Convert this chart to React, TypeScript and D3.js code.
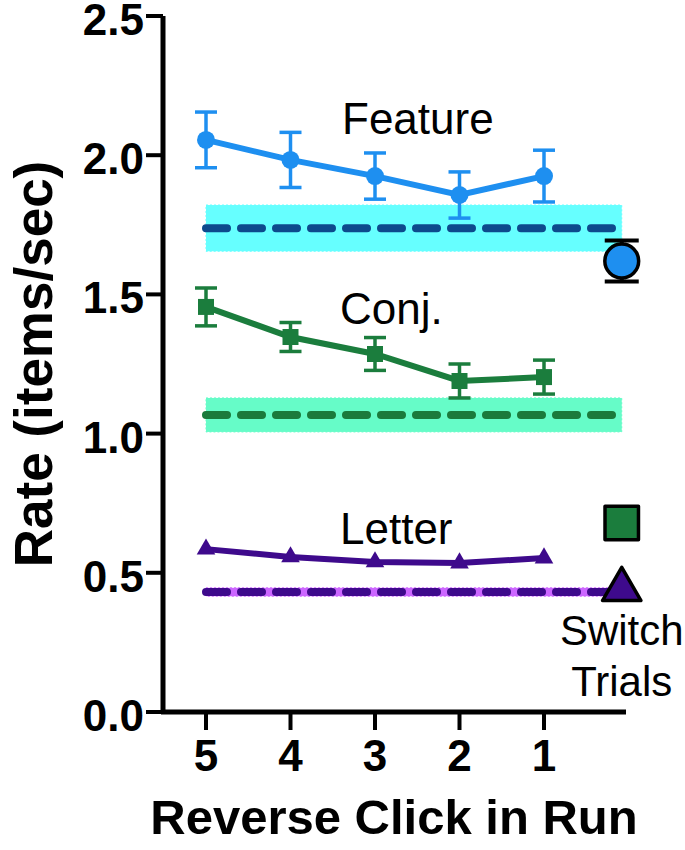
import React from "react";
import * as d3 from "d3";

// reverse click position in run (5 = five clicks before end)
const clicks = ["5", "4", "3", "2", "1"];
const SWITCH = 4.92; // slot for the switch-trial column

const featureMean = [2.055, 1.983, 1.925, 1.857, 1.925];
const featureErr = [0.1, 0.099, 0.083, 0.083, 0.093];
const conjMean = [1.455, 1.347, 1.286, 1.189, 1.203];
const conjErr = [0.068, 0.052, 0.059, 0.061, 0.061];
const letterMean = [0.585, 0.557, 0.539, 0.535, 0.553];

// non-run baselines (mean, half-width of band)
const featureBase = [1.738, 0.083];
const conjBase = [1.067, 0.061];
const letterBase = [0.431, 0.015];

// switch trials (mean, sem)
const switchFeature = [1.62, 0.074];
const switchConj = [0.679, 0];
const switchLetter = [0.44, 0];

const yTicks = [0, 0.5, 1.0, 1.5, 2.0, 2.5];

const FONT = "'Liberation Sans', Arial, Helvetica, sans-serif";

const series = [
  { name: "Feature", mean: featureMean, err: featureErr, base: featureBase, color: "#1e8ff0", band: "#66ffff", dash: "#0d4a8c", sym: d3.symbolCircle, size: 254, label: [342, 134] },
  { name: "Conj.", mean: conjMean, err: conjErr, base: conjBase, color: "#1b7d3d", band: "#66fcc8", dash: "#1b7a3c", sym: d3.symbolSquare, size: 256, label: [340, 324] },
  { name: "Letter", mean: letterMean, err: null, base: letterBase, color: "#3e0a8c", band: "#cc66ff", dash: "#3e0a8c", sym: d3.symbolTriangle, size: 150, label: [340, 544] },
];

const switches = [
  { v: switchFeature, color: "#1e8ff0", sym: d3.symbolCircle, size: 900 },
  { v: switchConj, color: "#1b7d3d", sym: d3.symbolSquare, size: 1120 },
  { v: switchLetter, color: "#3e0a8c", sym: d3.symbolTriangle, size: 640 },
];

export default function App() {
  const width = 685;
  const height = 850;
  const axisX = 163;
  const axisY = 712;

  const y = d3.scaleLinear().domain([0, 2.5]).range([axisY, 16]);
  const x = d3.scaleLinear().domain([0, 4]).range([206, 544]);

  const line = d3
    .line<number>()
    .x((_, i) => x(i))
    .y((d) => y(d));

  const capW = 11;

  return (
    <svg
      width={width}
      height={height}
      style={{ position: "absolute", left: 0, top: 0, background: "#fff" }}
      fontFamily={FONT}
    >
      {/* baseline bands and dashed lines */}
      {series.map((s) => (
        <g key={"base" + s.name}>
          <rect
            x={x(0)}
            width={x(SWITCH) - x(0)}
            y={y(s.base[0] + s.base[1])}
            height={y(s.base[0] - s.base[1]) - y(s.base[0] + s.base[1])}
            fill={s.band}
            stroke={s.band}
            strokeWidth={1}
            strokeDasharray="2,2"
          />
          <line
            x1={x(0)}
            x2={x(SWITCH) - 8}
            y1={y(s.base[0])}
            y2={y(s.base[0])}
            stroke={s.dash}
            strokeWidth={8}
            strokeLinecap="round"
            strokeDasharray="21,14"
          />
        </g>
      ))}

      {/* run series */}
      {series.map((s) => (
        <g key={s.name}>
          <path d={line(s.mean) ?? ""} fill="none" stroke={s.color} strokeWidth={6} />
          {s.err &&
            s.mean.map((m, i) => (
              <g key={i} stroke={s.color} strokeWidth={3.5}>
                <line x1={x(i)} x2={x(i)} y1={y(m + s.err![i])} y2={y(m - s.err![i])} />
                <line x1={x(i) - capW} x2={x(i) + capW} y1={y(m + s.err![i])} y2={y(m + s.err![i])} />
                <line x1={x(i) - capW} x2={x(i) + capW} y1={y(m - s.err![i])} y2={y(m - s.err![i])} />
              </g>
            ))}
          {s.mean.map((m, i) => (
            <path
              key={"m" + i}
              transform={`translate(${x(i)},${y(m)})`}
              d={d3.symbol(s.sym, s.size)() ?? ""}
              fill={s.color}
            />
          ))}
          <text x={s.label[0]} y={s.label[1]} fontSize={44} fill="#000">
            {s.name}
          </text>
        </g>
      ))}

      {/* switch trials */}
      {switches.map((s, i) => (
        <g key={"sw" + i}>
          {s.v[1] > 0 && (
            <g stroke="#000" strokeWidth={4}>
              <line x1={x(SWITCH)} x2={x(SWITCH)} y1={y(s.v[0] + s.v[1])} y2={y(s.v[0] - s.v[1])} />
              <line x1={x(SWITCH) - 17} x2={x(SWITCH) + 17} y1={y(s.v[0] + s.v[1])} y2={y(s.v[0] + s.v[1])} />
              <line x1={x(SWITCH) - 17} x2={x(SWITCH) + 17} y1={y(s.v[0] - s.v[1])} y2={y(s.v[0] - s.v[1])} />
            </g>
          )}
          <path
            transform={`translate(${x(SWITCH)},${y(s.v[0])})`}
            d={d3.symbol(s.sym, s.size)() ?? ""}
            fill={s.color}
            stroke="#000"
            strokeWidth={3.5}
            strokeLinejoin="round"
          />
        </g>
      ))}
      <text x={x(SWITCH)} y={645} textAnchor="middle" fontSize={42}>
        Switch
      </text>
      <text x={x(SWITCH)} y={696} textAnchor="middle" fontSize={42}>
        Trials
      </text>

      {/* y axis */}
      <line x1={axisX} x2={axisX} y1={y(2.5)} y2={axisY + 2} stroke="#000" strokeWidth={5} />
      {yTicks.map((t) => (
        <g key={t}>
          <line x1={axisX - 17} x2={axisX} y1={y(t)} y2={y(t)} stroke="#000" strokeWidth={4} />
          <text
            x={axisX - 19}
            y={y(t)}
            dy="0.43em"
            textAnchor="end"
            fontSize={44}
            fontWeight="bold"
          >
            {d3.format(".1f")(t)}
          </text>
        </g>
      ))}

      {/* x axis */}
      <line x1={axisX - 2} x2={626} y1={axisY} y2={axisY} stroke="#000" strokeWidth={5} />
      {clicks.map((c, i) => (
        <g key={c}>
          <line x1={x(i)} x2={x(i)} y1={axisY} y2={axisY + 18} stroke="#000" strokeWidth={4} />
          <text x={x(i)} y={771} textAnchor="middle" fontSize={44} fontWeight="bold">
            {c}
          </text>
        </g>
      ))}

      <text x={394} y={834} textAnchor="middle" fontSize={49} fontWeight="bold">
        Reverse Click in Run
      </text>
      <text
        transform={`translate(52, ${y(1.25)}) rotate(-90)`}
        textAnchor="middle"
        fontSize={53}
        fontWeight="bold"
      >
        Rate (items/sec)
      </text>
    </svg>
  );
}
